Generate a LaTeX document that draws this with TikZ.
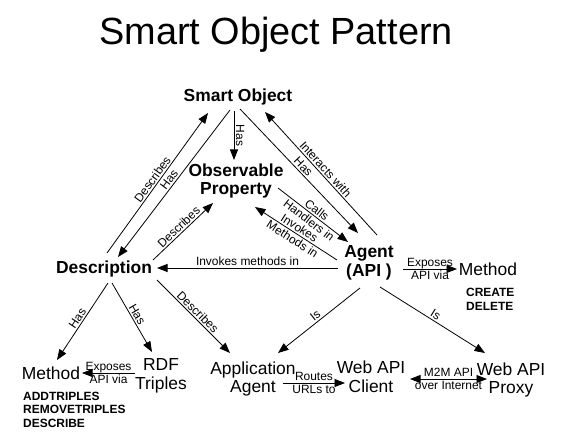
\documentclass[tikz,border=0pt]{standalone}
\usepackage{fontspec}
\setmainfont{Liberation Sans}
\usetikzlibrary{arrows.meta}

\begin{document}
\begin{tikzpicture}[x=1bp, y=1bp,
    concept/.style={font=\fontsize{17.5}{19}\selectfont\bfseries, align=center, inner sep=0pt},
    term/.style={font=\fontsize{17.5}{19}\selectfont, align=center, inner sep=0pt},
    ops/.style={font=\fontsize{12}{13.5}\selectfont\bfseries, align=left, inner sep=0pt, anchor=west},
    lbl/.style={font=\fontsize{12}{13}\selectfont, inner sep=1.5bp},
    pair/.style={lbl, align=center, inner sep=0pt},
    rel/.style={-{Triangle[length=10.5bp,width=8bp]}, line width=0.8bp}]
  \useasboundingbox (0,0) rectangle (571,-441);

  % Title
  \node[anchor=base, font=\fontsize{38}{40}\selectfont] (title) at (276,-45) {Smart Object Pattern};

  % Concepts
  \node[concept] (smart) at (238,-97) {Smart Object};
  \node[concept] (obs) at (236,-181) {Observable\\Property};
  \node[concept] (desc) at (104,-269) {Description};
  \node[concept] (agent) at (369,-263) {Agent\\(API )};

  % Terms
  \node[term] (methR) at (488,-269) {Method};
  \node[ops] (opsR) at (466,-299.5) {CREATE\\DELETE};
  \node[term] (methL) at (51,-373) {Method};
  \node[ops] (opsL) at (23,-409.5) {ADDTRIPLES\\REMOVETRIPLES\\DESCRIBE};
  \node[term] (rdf) at (161,-376) {RDF\\Triples};
  \node[term] (app) at (253,-379) {Application\\Agent};
  \node[term] (client) at (371,-377) {Web API\\Client};
  \node[term] (proxy) at (511,-380) {Web API\\Proxy};

  % Smart Object links
  \draw[rel] ([shift={(3,16)}]desc.center) -- ([shift={(-30,-16)}]smart.center)
    node[midway, sloped, above, lbl] {Describes};
  \draw[rel] ([shift={(-8,-13)}]smart.center) -- ([shift={(14,12)}]desc.center)
    node[midway, sloped, above, lbl] {Has};
  \draw[rel] ([shift={(-4,-14)}]smart.center) -- ([shift={(-2,21)}]obs.center)
    node[midway, rotate=-90, anchor=south, lbl] {Has};
  \draw[rel] ([shift={(8,28)}]agent.center) -- ([shift={(27,-15)}]smart.center)
    node[midway, sloped, above, lbl] {Interacts with};
  \draw[rel] ([shift={(2,-12)}]smart.center) -- ([shift={(-11,30)}]agent.center)
    node[midway, sloped, above, lbl] {Has};

  % Observable Property / Agent
  \draw[rel] ([shift={(42,-7)}]obs.center) -- ([shift={(-21,21)}]agent.center)
    node[midway, sloped, pair] {Calls\\Handlers in};
  \draw[rel] ([shift={(-32,3)}]agent.center) -- ([shift={(19,-26)}]obs.center)
    node[midway, sloped, pair] {Invokes\\Methods in};
  \draw[rel] ([shift={(-31,-5)}]agent.center) -- ([shift={(53,1)}]desc.center)
    node[midway, above, lbl] {Invokes methods in};

  % Description links
  \draw[rel] ([shift={(49,9)}]desc.center) -- ([shift={(-23,-22)}]obs.center)
    node[midway, sloped, above, lbl] {Describes};
  \draw[rel] ([shift={(53,-11)}]desc.center) -- ([shift={(-23,26)}]app.center)
    node[midway, sloped, above, lbl] {Describes};
  \draw[rel] ([shift={(4,-14)}]desc.center) -- ([shift={(6,13)}]methL.center)
    node[midway, sloped, above, lbl] {Has};
  \draw[rel] ([shift={(8,-14)}]desc.center) -- ([shift={(-9,24)}]rdf.center)
    node[midway, sloped, above, lbl] {Has};
  \draw[rel] ([shift={(-26,3)}]rdf.center) -- ([shift={(31,0)}]methL.center)
    node[midway, pair] {Exposes\\API via};

  % Agent links
  \draw[rel] ([shift={(34,-6)}]agent.center) -- ([shift={(-31,0)}]methR.center)
    node[midway, pair] {Exposes\\API via};
  \draw[rel] ([shift={(-9,-25)}]agent.center) -- ([shift={(25,26)}]app.center)
    node[midway, sloped, above, lbl] {Is};
  \draw[rel] ([shift={(11,-24)}]agent.center) -- ([shift={(-26,27)}]proxy.center)
    node[midway, sloped, above, lbl] {Is};

  % Web API chain
  \draw[rel] ([shift={(30,-4)}]app.center) -- ([shift={(-26,-6)}]client.center)
    node[midway, pair] {Routes\\URLs to};
  \draw[rel, {Triangle[length=10.5bp,width=8bp]}-{Triangle[length=10.5bp,width=8bp]}]
    ([shift={(39,-2)}]client.center) -- ([shift={(-24,1)}]proxy.center)
    node[midway, pair] {M2M API\\over Internet};
\end{tikzpicture}
\end{document}
